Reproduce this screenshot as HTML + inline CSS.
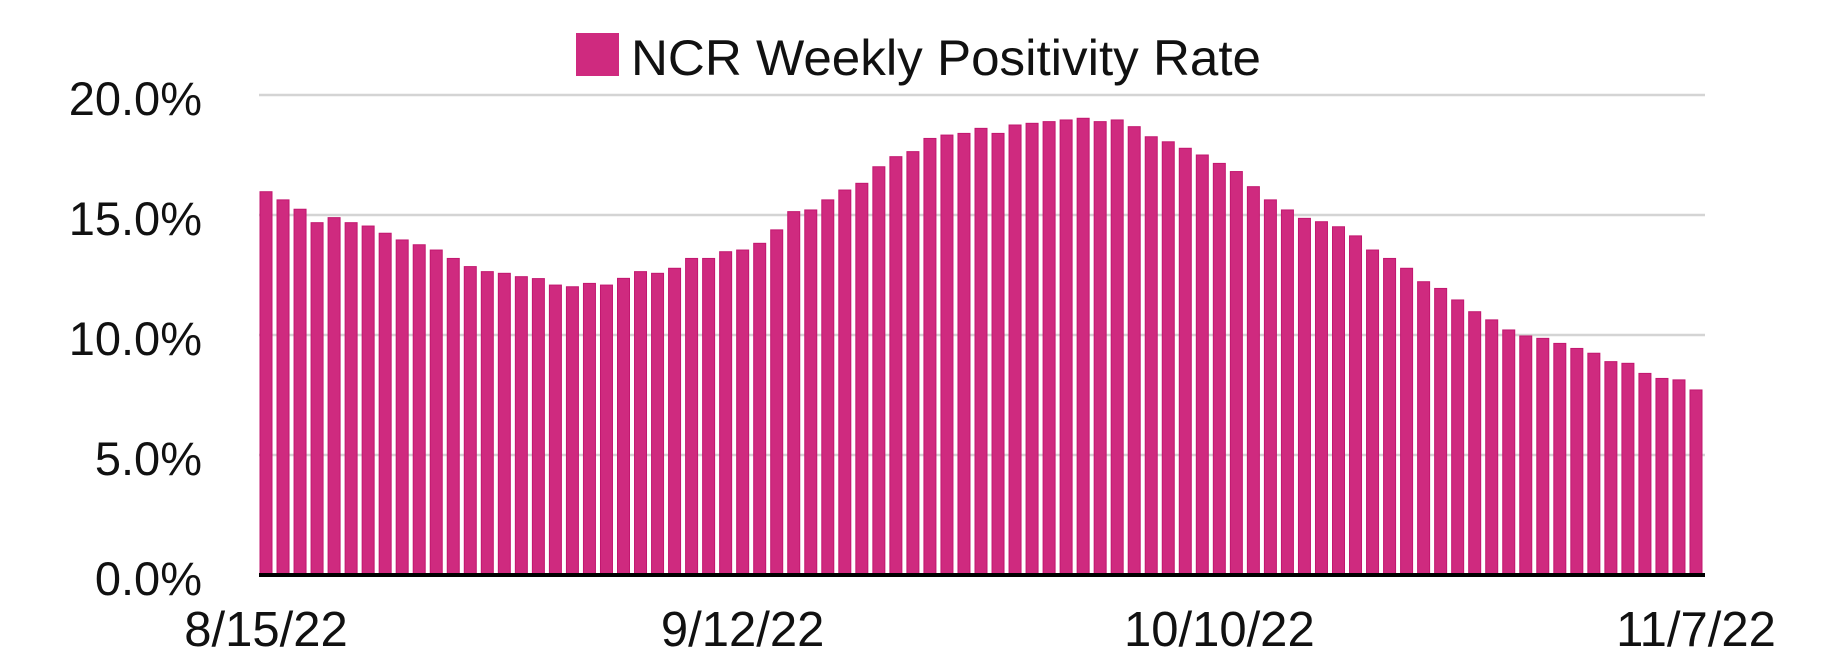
<!DOCTYPE html>
<html><head><meta charset="utf-8"><style>
html,body{margin:0;padding:0;background:#fff;}
svg{display:block;font-family:"Liberation Sans",Arial,sans-serif;}
</style></head><body>
<svg id="chart" width="1832" height="667" viewBox="0 0 1832 667" xmlns="http://www.w3.org/2000/svg">
<g id="grid"></g>
<g id="bars"></g>
<g id="yaxis"></g>
<g id="xaxis"></g>
<g>
<rect x="576" y="33" width="43" height="43" fill="#cf2a7f"/>
<text x="631" y="75" font-size="50" textLength="630" lengthAdjust="spacingAndGlyphs" fill="#111">NCR Weekly Positivity Rate</text>
</g>
</svg>
<script>
const values = [15.97,15.63,15.24,14.68,14.89,14.68,14.54,14.24,13.96,13.76,13.54,13.19,12.85,12.64,12.57,12.43,12.35,12.08,12.01,12.15,12.08,12.36,
12.64,12.57,12.78,13.19,13.19,13.47,13.54,13.82,14.38,15.14,15.21,15.63,16.04,16.32,17.01,17.43,17.64,18.19,18.33,18.40,18.61,18.40,18.75,18.82,
18.89,18.96,19.03,18.89,18.96,18.68,18.26,18.05,17.78,17.50,17.15,16.81,16.18,15.63,15.21,14.86,14.72,14.51,14.13,13.54,13.19,12.78,12.22,11.94,11.46,
10.97,10.63,10.21,9.96,9.86,9.65,9.44,9.24,8.89,8.82,8.40,8.19,8.13,7.71];
const yTicks = [0,5,10,15,20];
const yTickLabels = ["0.0%","5.0%","10.0%","15.0%","20.0%"];
const xTickIndices = [0,28,56,84];
const xTickLabels = ["8/15/22","9/12/22","10/10/22","11/7/22"];

const NS="http://www.w3.org/2000/svg";
const plotL=259, plotR=1705, y0=575, yTop=95, yMax=20;
const firstCenter=266, lastCenter=1696;
const step=(lastCenter-firstCenter)/(values.length-1);
const barW=12;
function yScale(v){return y0-(v/yMax)*(y0-yTop);}
function xScale(i){return firstCenter+i*step;}
function mk(tag,attrs,parent){const e=document.createElementNS(NS,tag);for(const k in attrs)e.setAttribute(k,attrs[k]);parent.appendChild(e);return e;}

const grid=document.getElementById('grid');
const yaxis=document.getElementById('yaxis');
yTicks.forEach((t,i)=>{
  const y=yScale(t);
  if(t>0){
    const l=mk('line',{x1:plotL,x2:plotR,y1:y,y2:y,stroke:'#d4d4d4','stroke-width':2.5},grid);
    
    
  }
  const tx=mk('text',{x:202,y:y+20,'text-anchor':'end','font-size':47,fill:'#111'},yaxis);
  
  
  tx.textContent=yTickLabels[i];
});

const bars=document.getElementById('bars');
values.forEach((v,i)=>{
  const y=yScale(v);
  const r=mk('rect',{x:xScale(i)-barW/2,y:y,width:barW,height:y0-y,fill:'#cf2a7f',stroke:'#c2176f','stroke-width':1},bars);
  
  
});

const xaxis=document.getElementById('xaxis');
const ax=mk('line',{x1:plotL,x2:plotR,y1:y0,y2:y0,stroke:'#000','stroke-width':4},xaxis);


xTickIndices.forEach((idx,i)=>{
  const t=mk('text',{x:xScale(idx),y:646,'text-anchor':'middle','font-size':49,fill:'#111'},xaxis);
  
  
  t.textContent=xTickLabels[i];
});
</script>
</body></html>
